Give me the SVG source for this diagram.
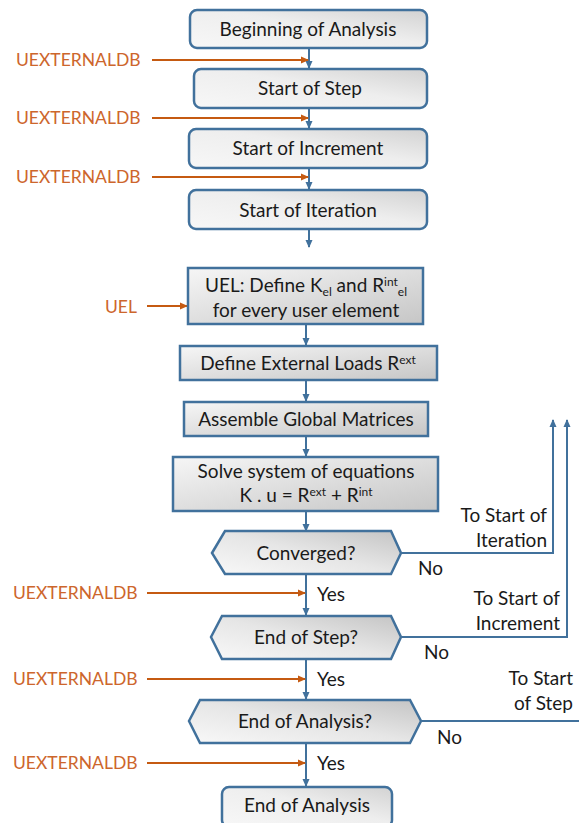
<svg xmlns="http://www.w3.org/2000/svg" width="579" height="823" viewBox="0 0 579 823">
  <defs>
    <linearGradient id="gradRound" x1="0" y1="1" x2="1" y2="0">
      <stop offset="0" stop-color="#f7f7f7"/>
      <stop offset="0.55" stop-color="#eeeeee"/>
      <stop offset="1" stop-color="#d2d2d2"/>
    </linearGradient>
    <linearGradient id="gradRect" x1="0" y1="0" x2="1" y2="1">
      <stop offset="0" stop-color="#f6f6f6"/>
      <stop offset="1" stop-color="#c6c6c6"/>
    </linearGradient>
    <linearGradient id="gradHex" x1="0" y1="1" x2="1" y2="0">
      <stop offset="0" stop-color="#f8f8f8"/>
      <stop offset="0.5" stop-color="#e6e6e6"/>
      <stop offset="1" stop-color="#c4c4c4"/>
    </linearGradient>
    <marker id="arrBlue" viewBox="0 0 8 8" refX="7" refY="4" markerWidth="8" markerHeight="8" markerUnits="userSpaceOnUse" orient="auto">
      <path d="M0,0.5 L8,4 L0,7.5 Z" fill="#41719c"/>
    </marker>
    <marker id="arrOrange" viewBox="0 0 8 8" refX="7" refY="4" markerWidth="8" markerHeight="8" markerUnits="userSpaceOnUse" orient="auto">
      <path d="M0,0.5 L8,4 L0,7.5 Z" fill="#c55a11"/>
    </marker>
  </defs>
  <style>
    text { font-family: Lato, "Liberation Sans", sans-serif; fill: #1a1a1a; font-size: 19px; }
    .c { text-anchor: middle; }
    .r { text-anchor: end; }
    .lbl { fill: #cd662c; font-size: 17.5px; }
    .round { fill: url(#gradRound); stroke: #41719c; stroke-width: 2.5; }
    .box { fill: url(#gradRect); stroke: #41719c; stroke-width: 2.5; }
    .hex { fill: url(#gradHex); stroke: #41719c; stroke-width: 2.5; stroke-linejoin: miter; }
    .flow { fill: none; stroke: #41719c; stroke-width: 2; marker-end: url(#arrBlue); }
    .loop { fill: none; stroke: #41719c; stroke-width: 2; }
    .hook { fill: none; stroke: #c55a11; stroke-width: 2; marker-end: url(#arrOrange); }
    .sm { font-size: 12px; }
  </style>

  <!-- connectors -->
  <g id="connectors">
    <line class="flow" x1="309" y1="48" x2="309" y2="68"/>
    <line class="flow" x1="309" y1="108" x2="309" y2="128"/>
    <line class="flow" x1="309" y1="168" x2="309" y2="189"/>
    <line class="flow" x1="309" y1="229" x2="309" y2="247"/>
    <line class="flow" x1="306" y1="324" x2="306" y2="345"/>
    <line class="flow" x1="306" y1="380" x2="306" y2="401"/>
    <line class="flow" x1="306" y1="436" x2="306" y2="456"/>
    <line class="flow" x1="306" y1="511" x2="306" y2="531"/>
    <line class="flow" x1="306" y1="574" x2="306" y2="615"/>
    <line class="flow" x1="306" y1="659" x2="306" y2="699"/>
    <line class="flow" x1="306" y1="743" x2="306" y2="786"/>
    <!-- loop-back branches -->
    <polyline class="flow" points="401,553 553,553 553,420"/>
    <polyline class="flow" points="401,637 567,637 567,420"/>
    <line class="loop" x1="421" y1="721" x2="579" y2="721"/>
    <!-- user subroutine hooks -->
    <line class="hook" x1="152" y1="60" x2="308" y2="60"/>
    <line class="hook" x1="152" y1="118" x2="308" y2="118"/>
    <line class="hook" x1="152" y1="177" x2="308" y2="177"/>
    <line class="hook" x1="147" y1="306" x2="187" y2="306"/>
    <line class="hook" x1="147" y1="593" x2="305" y2="593"/>
    <line class="hook" x1="147" y1="679" x2="305" y2="679"/>
    <line class="hook" x1="147" y1="763" x2="305" y2="763"/>
  </g>

  <!-- hook labels -->
  <g id="hook-labels">
    <text class="lbl" x="16" y="66">UEXTERNALDB</text>
    <text class="lbl" x="16" y="124">UEXTERNALDB</text>
    <text class="lbl" x="16" y="183">UEXTERNALDB</text>
    <text class="lbl" x="105" y="313">UEL</text>
    <text class="lbl" x="13" y="599">UEXTERNALDB</text>
    <text class="lbl" x="13" y="685">UEXTERNALDB</text>
    <text class="lbl" x="13" y="769">UEXTERNALDB</text>
  </g>

  <g id="beginning-analysis">
    <rect class="round" x="190" y="10" width="237" height="38" rx="7"/>
    <text class="c" x="308" y="36">Beginning of Analysis</text>
  </g>
  <g id="start-step">
    <rect class="round" x="194" y="69" width="233" height="39" rx="7"/>
    <text class="c" x="310" y="95">Start of Step</text>
  </g>
  <g id="start-increment">
    <rect class="round" x="189" y="129" width="238" height="39" rx="7"/>
    <text class="c" x="308" y="155">Start of Increment</text>
  </g>
  <g id="start-iteration">
    <rect class="round" x="189" y="190" width="238" height="39" rx="7"/>
    <text class="c" x="308" y="217">Start of Iteration</text>
  </g>

  <g id="uel">
    <rect class="box" x="188" y="268" width="235" height="56"/>
    <text class="c" x="306" y="292">UEL: Define K<tspan class="sm" baseline-shift="-4">el</tspan> and R<tspan class="sm" baseline-shift="6">int</tspan><tspan class="sm" baseline-shift="-4">el</tspan></text>
    <text class="c" x="306" y="317">for every user element</text>
  </g>
  <g id="external-loads">
    <rect class="box" x="180" y="346" width="257" height="34"/>
    <text class="c" x="308" y="370">Define External Loads R<tspan class="sm" baseline-shift="6">ext</tspan></text>
  </g>
  <g id="assemble">
    <rect class="box" x="184" y="402" width="244" height="34"/>
    <text class="c" x="306" y="426">Assemble Global Matrices</text>
  </g>
  <g id="solve">
    <rect class="box" x="173" y="457" width="265" height="54"/>
    <text class="c" x="306" y="478">Solve system of equations</text>
    <text class="c" x="306" y="502">K . u = R<tspan class="sm" baseline-shift="6">ext</tspan> + R<tspan class="sm" baseline-shift="6">int</tspan></text>
  </g>

  <g id="converged">
    <polygon class="hex" points="212,553 225,531 391,531 401,553 391,574 225,574"/>
    <text class="c" x="306" y="560">Converged?</text>
  </g>
  <g id="end-step">
    <polygon class="hex" points="211,637 222,616 391,616 401,637 391,659 222,659"/>
    <text class="c" x="306" y="644">End of Step?</text>
  </g>
  <g id="end-analysis-check">
    <polygon class="hex" points="189,721 200,700 410,700 421,721 410,743 200,743"/>
    <text class="c" x="305" y="728">End of Analysis?</text>
  </g>
  <g id="end-analysis">
    <rect class="round" x="222" y="787" width="170" height="40" rx="7"/>
    <text class="c" x="307" y="812">End of Analysis</text>
  </g>

  <!-- branch labels -->
  <g id="branch-labels">
    <text class="r" x="547" y="522">To Start of</text>
    <text class="r" x="547" y="547">Iteration</text>
    <text x="418" y="575">No</text>
    <text x="317" y="601">Yes</text>
    <text class="r" x="560" y="605">To Start of</text>
    <text class="r" x="560" y="630">Increment</text>
    <text x="424" y="659">No</text>
    <text x="317" y="686">Yes</text>
    <text class="r" x="573" y="685">To Start</text>
    <text class="r" x="573" y="710">of Step</text>
    <text x="437" y="744">No</text>
    <text x="317" y="770">Yes</text>
  </g>
</svg>
